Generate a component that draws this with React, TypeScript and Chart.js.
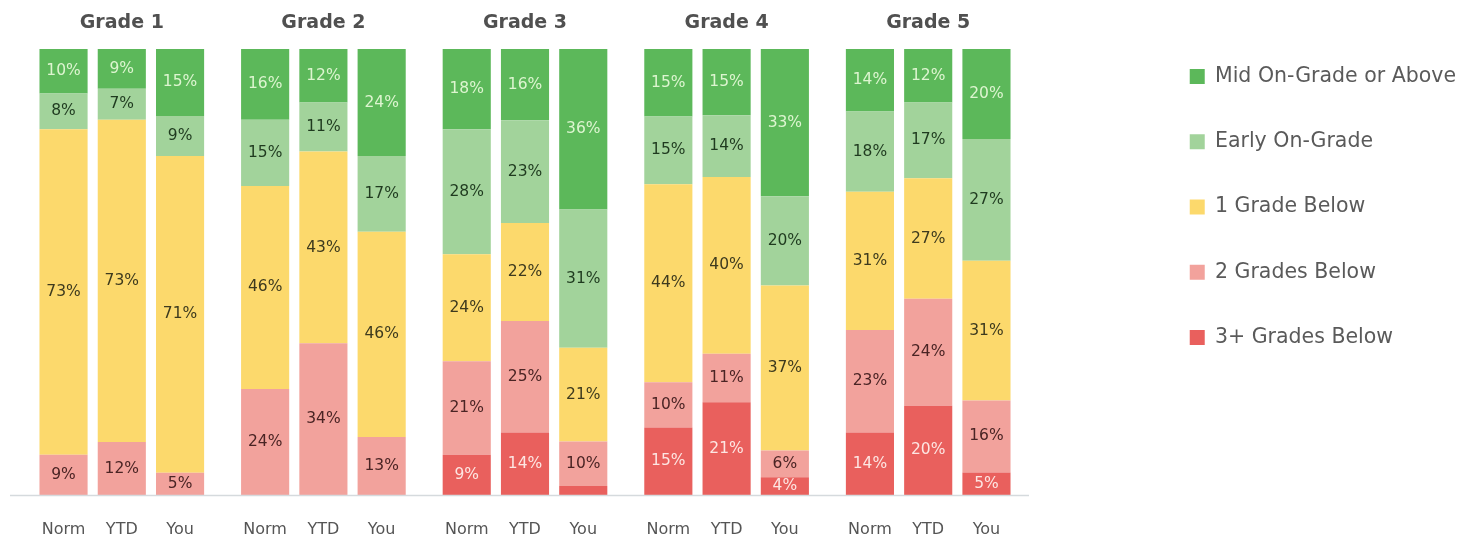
import React, { useEffect, useRef } from 'react';
import { Chart, registerables } from 'chart.js';

Chart.register(...registerables);

const grades = ['Grade 1', 'Grade 2', 'Grade 3', 'Grade 4', 'Grade 5'];
const groups = ['Norm', 'YTD', 'You'];
// bottom to top of each stacked bar
const levels = ['3+ Grades Below', '2 Grades Below', '1 Grade Below', 'Early On-Grade', 'Mid On-Grade or Above'];
const levelColors = ['#e9605d', '#f2a29c', '#fcd96c', '#a2d39b', '#5cb85a'];
const levelTextColors = ['#fde6e3', '#4a2424', '#3d3a1e', '#1f3a1f', '#ddf5d0'];

// Norm values per grade (Grade 1..5)
const norm3Plus = [0, 0, 9, 15, 14];
const norm2Below = [9, 24, 21, 10, 23];
const norm1Below = [73, 46, 24, 44, 31];
const normEarly = [8, 15, 28, 15, 18];
const normMid = [10, 16, 18, 15, 14];

// YTD values per grade
const ytd3Plus = [0, 0, 14, 21, 20];
const ytd2Below = [12, 34, 25, 11, 24];
const ytd1Below = [73, 43, 22, 40, 27];
const ytdEarly = [7, 11, 23, 14, 17];
const ytdMid = [9, 12, 16, 15, 12];

// You values per grade
const you3Plus = [0, 0, 2, 4, 5];
const you2Below = [5, 13, 10, 6, 16];
const you1Below = [71, 46, 21, 37, 31];
const youEarly = [9, 17, 31, 20, 27];
const youMid = [15, 24, 36, 33, 20];

const seriesByGroup: number[][][] = [
  [norm3Plus, norm2Below, norm1Below, normEarly, normMid],
  [ytd3Plus, ytd2Below, ytd1Below, ytdEarly, ytdMid],
  [you3Plus, you2Below, you1Below, youEarly, youMid],
];

const FONT = 'DejaVu Sans';

function buildDatasets() {
  const totals = seriesByGroup.map((levelsArr) =>
    grades.map((_, gi) => levelsArr.reduce((s, arr) => s + arr[gi], 0))
  );
  const ds: any[] = [];
  levels.forEach((lvl, li) => {
    groups.forEach((grp, gi) => {
      const raw = seriesByGroup[gi][li];
      ds.push({
        label: lvl,
        stack: grp,
        raw,
        textColor: levelTextColors[li],
        data: raw.map((v, k) => (v / totals[gi][k]) * 100),
        backgroundColor: levelColors[li],
        borderWidth: 0,
        categoryPercentage: 0.867,
        barPercentage: 0.826,
      });
    });
  });
  return ds;
}

const segmentLabels = {
  id: 'segmentLabels',
  afterDatasetsDraw(chart: any) {
    const ctx = chart.ctx;
    ctx.save();
    ctx.font = `15.5px "${FONT}"`;
    ctx.textAlign = 'center';
    ctx.textBaseline = 'middle';
    chart.data.datasets.forEach((d: any, i: number) => {
      const meta = chart.getDatasetMeta(i);
      meta.data.forEach((el: any, j: number) => {
        const v = d.raw[j];
        if (v < 3) return;
        ctx.fillStyle = d.textColor;
        ctx.fillText(`${v}%`, el.x, (el.y + el.base) / 2);
      });
    });
    // baseline
    const area = chart.chartArea;
    ctx.strokeStyle = '#d5dadd';
    ctx.lineWidth = 1.5;
    ctx.beginPath();
    ctx.moveTo(10, area.bottom + 0.5);
    ctx.lineTo(area.right, area.bottom + 0.5);
    ctx.stroke();
    // group labels under each bar
    ctx.font = `16px "${FONT}"`;
    ctx.fillStyle = '#555555';
    groups.forEach((g, gi) => {
      const meta = chart.getDatasetMeta(gi);
      meta.data.forEach((el: any) => {
        ctx.fillText(g, el.x, area.bottom + 35);
      });
    });
    ctx.restore();
  },
};

export default function App() {
  const ref = useRef<HTMLCanvasElement | null>(null);
  useEffect(() => {
    if (!ref.current) return;
    Chart.defaults.font.family = FONT;
    const chart = new Chart(ref.current, {
      type: 'bar',
      data: { labels: grades, datasets: buildDatasets() },
      options: {
        animation: false,
        responsive: true,
        maintainAspectRatio: false,
        layout: { padding: { left: 21, top: 0, right: 0, bottom: 43 } },
        plugins: {
          tooltip: { enabled: false },
          legend: {
            position: 'right',
            align: 'start',
            reverse: true,
            title: {
              display: true,
              text: '',
              font: { size: 1 },
              padding: { top: 20.3, bottom: 0 },
            },
            labels: {
              filter: (item: any, data: any) => data.datasets[item.datasetIndex].stack === 'Norm',
              boxWidth: 15,
              boxHeight: 15,
              padding: 44.75,
              color: '#5a5a5a',
              font: { size: 20.5, family: FONT },
            },
          },
        },
        scales: {
          x: {
            position: 'top',
            stacked: true,
            grid: { display: false, drawTicks: false },
            border: { display: false },
            ticks: {
              color: '#505050',
              padding: 15,
              font: { size: 19, weight: 'bold', family: FONT },
            },
            afterFit: (s: any) => {
              s.height = 49;
            },
          },
          y: {
            display: false,
            stacked: true,
            min: 0,
            max: 100,
          },
          y2: {
            position: 'right',
            display: true,
            grid: { display: false },
            border: { display: false },
            ticks: { display: false },
            afterFit: (s: any) => {
              const lw = s.chart.legend ? s.chart.legend.width : 0;
              s.width = Math.max(0, s.chart.width - lw - 1029);
            },
          },
        },
      },
      plugins: [segmentLabels],
    });
    return () => chart.destroy();
  }, []);
  return (
    <div style={{ position: 'fixed', left: 0, top: 0, width: 1466, height: 538, background: '#ffffff' }}>
      <canvas ref={ref} />
    </div>
  );
}
